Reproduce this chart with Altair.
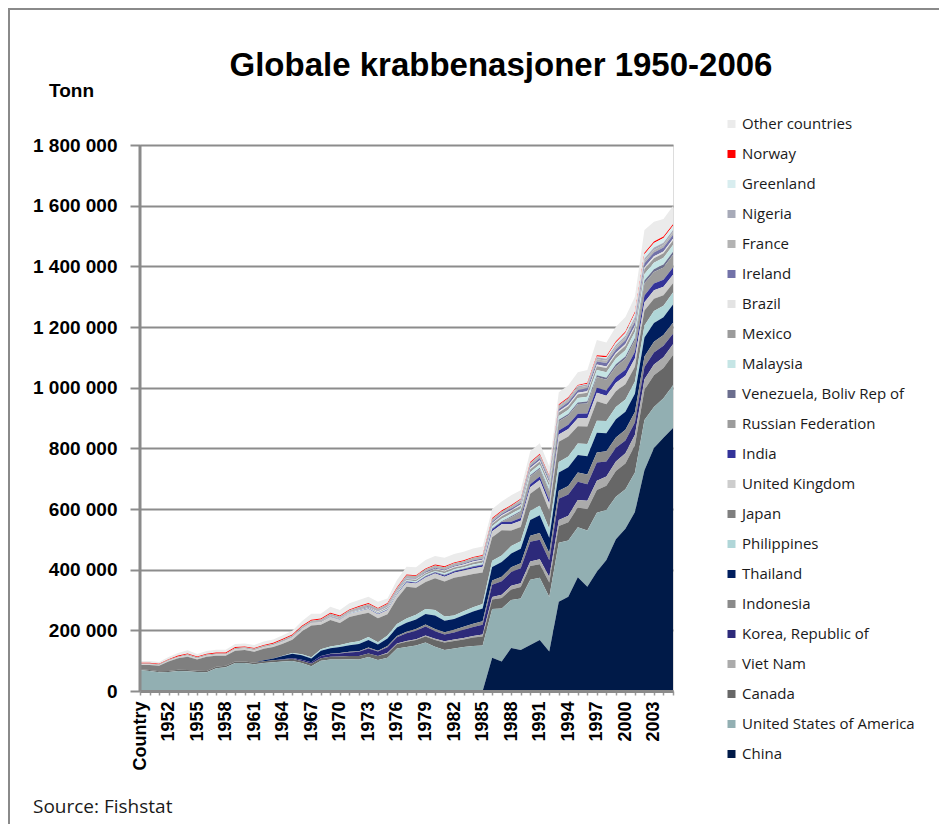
import altair as alt
import pandas as pd

# Category axis: first slot is labelled "Country" (Excel artefact), then 1950..2005
categories = ["Country"] + [str(y) for y in range(1950, 2006)]

# Values in thousand tonnes, one per category slot (57 slots)
china = [0, 0, 0, 0, 0, 0, 0, 0, 0, 0,
         0, 0, 0, 0, 0, 0, 0, 0, 0, 0,
         0, 0, 0, 0, 0, 0, 0, 0, 0, 0,
         0, 0, 0, 0, 0, 0, 0, 110, 97, 142,
         135, 152, 168, 130, 294, 311, 375, 344, 393, 432,
         500, 535, 590, 728, 801, 835, 867]
usa = [69, 66, 62, 63, 66, 65, 63, 62, 75, 78,
       92, 92, 88, 92, 95, 97, 99, 92, 82, 100,
       104, 104, 105, 104, 112, 102, 110, 140, 145, 150,
       160, 146, 135, 140, 145, 148, 150, 160, 175, 158,
       170, 215, 205, 180, 195, 185, 165, 185, 195, 165,
       140, 130, 130, 165, 135, 130, 141]
canada = [3, 3, 3, 3, 4, 4, 4, 4, 5, 5,
          5, 5, 5, 6, 6, 6, 7, 7, 8, 8,
          9, 10, 10, 11, 12, 13, 14, 15, 17, 18,
          20, 22, 25, 25, 25, 28, 30, 32, 35, 35,
          38, 45, 45, 48, 55, 60, 65, 70, 75, 80,
          85, 85, 90, 100, 105, 100, 100]
vietnam = [0, 0, 0, 0, 0, 0, 0, 0, 0, 0,
           0, 0, 0, 0, 0, 0, 0, 0, 0, 0,
           0, 0, 0, 0, 0, 0, 2, 2, 3, 3,
           3, 4, 4, 5, 5, 5, 6, 8, 10, 12,
           12, 15, 16, 18, 20, 22, 25, 28, 30, 30,
           32, 34, 35, 35, 35, 35, 35]
korea = [0, 0, 0, 0, 0, 0, 0, 0, 0, 0,
         0, 0, 0, 0, 0, 2, 3, 4, 5, 7,
         9, 10, 12, 14, 16, 15, 18, 20, 25, 28,
         30, 25, 22, 23, 27, 30, 32, 40, 45, 45,
         50, 65, 65, 55, 70, 70, 60, 55, 60, 50,
         45, 42, 40, 40, 40, 38, 35]
indonesia = [0, 0, 0, 0, 0, 0, 0, 0, 0, 0,
             0, 0, 0, 0, 0, 0, 0, 0, 0, 0,
             1, 1, 2, 2, 3, 3, 4, 4, 5, 5,
             6, 7, 8, 9, 10, 11, 12, 14, 15, 16,
             16, 20, 22, 24, 26, 28, 30, 32, 33, 33,
             34, 35, 35, 35, 35, 36, 36]
thailand = [0, 0, 0, 0, 0, 0, 0, 0, 0, 0,
            0, 0, 0, 3, 6, 10, 14, 15, 12, 18,
            18, 20, 22, 24, 25, 20, 25, 28, 30, 32,
            35, 45, 38, 35, 38, 40, 42, 45, 48, 45,
            48, 52, 58, 50, 60, 62, 58, 60, 65, 60,
            60, 60, 60, 62, 62, 58, 60]
philippines = [0, 0, 0, 0, 0, 0, 0, 0, 0, 0,
               0, 0, 0, 0, 0, 1, 2, 3, 4, 5,
               6, 7, 8, 9, 10, 8, 10, 12, 14, 15,
               16, 18, 14, 12, 13, 14, 15, 20, 22, 25,
               25, 30, 32, 30, 35, 35, 38, 40, 40, 40,
               40, 40, 40, 40, 40, 38, 40]
japan = [14, 17, 18, 31, 38, 44, 37, 47, 36, 33,
         36, 38, 36, 38, 38, 40, 44, 75, 105, 80,
         87, 72, 85, 87, 80, 79, 70, 84, 105, 89,
         89, 105, 115, 124, 116, 110, 104, 78, 83, 51,
         47, 56, 62, 59, 67, 66, 57, 58, 64, 55,
         52, 50, 49, 49, 40, 35, 30]
uk = [2, 2, 2, 3, 3, 4, 3, 3, 4, 4,
      5, 5, 5, 5, 6, 6, 7, 8, 8, 9,
      9, 10, 10, 11, 12, 12, 13, 13, 14, 14,
      15, 15, 16, 17, 18, 18, 19, 20, 20, 21,
      20, 22, 23, 23, 24, 25, 26, 27, 28, 28,
      28, 28, 28, 28, 28, 28, 28]
india = [0, 0, 0, 0, 0, 0, 0, 0, 0, 0,
         0, 0, 0, 0, 0, 0, 0, 0, 0, 0,
         1, 1, 1, 1, 2, 2, 2, 2, 3, 3,
         3, 3, 4, 4, 4, 5, 5, 6, 7, 8,
         9, 10, 11, 12, 13, 14, 15, 16, 17, 18,
         19, 20, 21, 22, 22, 23, 24]
russia = [0, 0, 0, 0, 0, 0, 0, 0, 0, 0,
          0, 0, 0, 0, 0, 0, 0, 0, 0, 0,
          0, 0, 0, 0, 0, 0, 0, 0, 0, 0,
          0, 0, 0, 0, 0, 0, 0, 0, 0, 15,
          20, 25, 25, 28, 30, 30, 32, 33, 35, 35,
          35, 36, 38, 40, 38, 40, 42]
venezuela = [0, 0, 0, 0, 0, 0, 0, 0, 0, 0,
             0, 0, 0, 0, 0, 0, 0, 0, 0, 0,
             0, 0, 0, 0, 0, 1, 1, 1, 1, 1,
             2, 2, 2, 2, 2, 2, 2, 3, 3, 3,
             3, 4, 4, 4, 5, 5, 5, 6, 6, 7,
             7, 8, 8, 9, 9, 10, 10]
malaysia = [0, 0, 0, 0, 0, 0, 0, 0, 0, 0,
            0, 0, 0, 0, 0, 0, 0, 0, 0, 0,
            1, 1, 1, 2, 2, 2, 3, 3, 3, 4,
            4, 4, 5, 5, 5, 6, 6, 7, 8, 8,
            9, 10, 11, 12, 13, 14, 15, 16, 17, 18,
            19, 20, 20, 22, 22, 22, 22]
mexico = [0, 0, 0, 0, 0, 0, 0, 0, 0, 0,
          0, 0, 0, 0, 0, 1, 1, 1, 1, 2,
          2, 2, 2, 3, 3, 3, 4, 4, 4, 5,
          5, 5, 6, 6, 6, 7, 7, 8, 8, 9,
          9, 10, 10, 11, 11, 12, 12, 13, 13, 14,
          14, 15, 15, 16, 15, 15, 15]
brazil = [0, 0, 0, 0, 0, 0, 0, 0, 0, 0,
          0, 0, 0, 0, 0, 0, 0, 0, 0, 0,
          1, 1, 1, 1, 1, 2, 2, 2, 2, 2,
          2, 2, 3, 3, 3, 3, 3, 3, 3, 3,
          4, 4, 4, 4, 4, 5, 5, 5, 5, 5,
          5, 6, 6, 6, 6, 6, 6]
ireland = [0, 0, 0, 0, 0, 0, 0, 0, 0, 0,
           0, 0, 0, 0, 0, 1, 1, 1, 1, 1,
           1, 1, 1, 1, 2, 2, 2, 2, 2, 2,
           3, 3, 3, 3, 3, 4, 4, 5, 5, 6,
           6, 7, 7, 8, 8, 9, 9, 10, 10, 11,
           11, 12, 12, 13, 13, 13, 13]
france = [3, 3, 3, 3, 3, 4, 4, 4, 4, 4,
          4, 4, 5, 5, 5, 5, 5, 6, 6, 6,
          6, 6, 6, 7, 7, 7, 7, 7, 8, 8,
          8, 8, 8, 8, 8, 8, 8, 8, 8, 8,
          8, 8, 8, 8, 8, 8, 8, 8, 8, 8,
          8, 8, 8, 8, 8, 8, 8]
nigeria = [0, 0, 0, 0, 0, 0, 0, 0, 0, 0,
           0, 0, 0, 0, 0, 0, 0, 0, 0, 0,
           0, 0, 0, 0, 0, 0, 0, 0, 0, 0,
           0, 0, 0, 0, 0, 0, 0, 0, 0, 0,
           2, 2, 3, 3, 4, 4, 5, 5, 6, 6,
           7, 7, 8, 8, 8, 8, 8]
greenland = [0, 0, 0, 0, 0, 0, 0, 0, 0, 0,
             0, 0, 0, 0, 0, 0, 0, 0, 0, 0,
             0, 0, 0, 0, 0, 0, 0, 0, 0, 0,
             0, 0, 0, 0, 0, 0, 0, 0, 0, 0,
             0, 0, 0, 0, 0, 0, 1, 2, 3, 5,
             8, 10, 12, 14, 15, 15, 14]
norway = [2, 2, 2, 2, 3, 3, 3, 3, 3, 3,
          3, 3, 3, 3, 3, 3, 3, 3, 3, 3,
          3, 3, 3, 3, 3, 3, 3, 3, 3, 3,
          3, 3, 3, 3, 3, 3, 3, 3, 3, 3,
          3, 3, 3, 3, 3, 3, 3, 3, 4, 4,
          4, 4, 5, 5, 5, 5, 5]
other = [6, 6, 6, 7, 8, 10, 8, 9, 9, 9,
         10, 10, 10, 11, 11, 12, 13, 15, 20, 16,
         20, 18, 20, 20, 21, 20, 15, 24, 26, 26,
         28, 28, 28, 28, 28, 28, 28, 30, 30, 32,
         28, 35, 35, 30, 40, 40, 42, 42, 50, 45,
         48, 48, 50, 75, 65, 58, 60]

# Legend order (top to bottom), matching colours
legend_order = ["Other countries", "Norway", "Greenland", "Nigeria", "France",
                "Ireland", "Brazil", "Mexico", "Malaysia", "Venezuela, Boliv Rep of",
                "Russian Federation", "India", "United Kingdom", "Japan", "Philippines",
                "Thailand", "Indonesia", "Korea, Republic of", "Viet Nam", "Canada",
                "United States of America", "China"]
colors = ["#EBEBEB", "#FF0000", "#D8EDEF", "#A7AAB8", "#B3B3B3",
          "#7272A8", "#E3E3E3", "#9B9B9B", "#C5E5E5", "#6B6E8E",
          "#9C9C9C", "#333399", "#CDCDCD", "#7F7F7F", "#B0D6D8",
          "#001E5E", "#8A8A8A", "#2D2A7A", "#ABABAB", "#676767",
          "#92AFB2", "#001A48"]
series = {
    "Other countries": other, "Norway": norway, "Greenland": greenland,
    "Nigeria": nigeria, "France": france, "Ireland": ireland, "Brazil": brazil,
    "Mexico": mexico, "Malaysia": malaysia, "Venezuela, Boliv Rep of": venezuela,
    "Russian Federation": russia, "India": india, "United Kingdom": uk,
    "Japan": japan, "Philippines": philippines, "Thailand": thailand,
    "Indonesia": indonesia, "Korea, Republic of": korea, "Viet Nam": vietnam,
    "Canada": canada, "United States of America": usa, "China": china,
}

rows = []
n = len(legend_order)
for li, name in enumerate(legend_order):
    vals = series[name]
    assert len(vals) == len(categories), (name, len(vals))
    for i, v in enumerate(vals):
        rows.append({"idx": i, "category": categories[i], "series": name,
                     "tonnes": v * 1000, "rank": n - 1 - li})
df = pd.DataFrame(rows)

W, H = 533, 546
FONT = "Liberation Sans"

x_label_expr = ("datum.value == 0 ? 'Country' : "
                "(datum.value % 3 == 0 ? '' + (1949 + datum.value) : '')")
y_label_expr = "join(split(format(datum.value, ','), ','), ' ')"

area = alt.Chart(df).mark_area(interpolate="linear").encode(
    x=alt.X("idx:Q",
            scale=alt.Scale(domain=[0, len(categories) - 1], nice=False, zero=False),
            axis=alt.Axis(values=list(range(len(categories))), labelExpr=x_label_expr,
                          labelAngle=270, labelAlign="right", labelBaseline="middle",
                          labelFont=FONT, labelFontSize=18, labelFontWeight="bold",
                          labelColor="black", labelPadding=6, labelOverlap=False,
                          labelFlush=False, tickColor="#9a9a9a", tickSize=4,
                          tickWidth=1.5, domainColor="#8a8a8a", domainWidth=3,
                          grid=False, title="", zindex=1)),
    y=alt.Y("tonnes:Q", stack="zero",
            scale=alt.Scale(domain=[0, 1800000], nice=False),
            axis=alt.Axis(values=[0, 200000, 400000, 600000, 800000, 1000000,
                                  1200000, 1400000, 1600000, 1800000],
                          labelExpr=y_label_expr, labelFont=FONT, labelFontSize=19,
                          labelFontWeight="bold", labelColor="black",
                          labelPadding=13, tickSize=10, tickColor="#8c8c8c",
                          tickWidth=2, gridColor="#8c8c8c", gridWidth=2,
                          domain=False, title="Tonn", titleAngle=0, titleX=-69,
                          titleY=-55, titleAlign="center", titleBaseline="middle",
                          titleFont=FONT, titleFontSize=19, titleFontWeight="bold",
                          titleColor="black")),
    color=alt.Color("series:N",
                    scale=alt.Scale(domain=legend_order, range=colors),
                    legend=alt.Legend(title=None, orient="none", legendX=584,
                                      legendY=-28.5, symbolType="square",
                                      symbolSize=64, symbolStrokeWidth=0,
                                      labelFont="Open Sans", labelFontSize=15,
                                      labelColor="#1a1a1a", labelOffset=3,
                                      rowPadding=14, padding=0, labelLimit=260)),
    order=alt.Order("rank:Q", sort="ascending"),
)

one = pd.DataFrame({"t": ["x"]})
y_axis_line = alt.Chart(one).mark_rule(color="#8a8a8a", strokeWidth=3).encode(
    x=alt.value(0), y=alt.value(0), y2=alt.value(H))
frame_left = alt.Chart(one).mark_rule(color="#8a8a8a", strokeWidth=2).encode(
    x=alt.value(-131), y=alt.value(-137), y2=alt.value(H + 140))
frame_top = alt.Chart(one).mark_rule(color="#8a8a8a", strokeWidth=2).encode(
    x=alt.value(-132), x2=alt.value(W + 270), y=alt.value(-136))

title_txt = alt.Chart(pd.DataFrame({"t": ["Globale krabbenasjoner 1950-2006"]})).mark_text(
    font=FONT, fontSize=33, fontWeight="bold", color="black", align="center",
    baseline="alphabetic").encode(text="t:N", x=alt.value(361), y=alt.value(-69))
source_txt = alt.Chart(pd.DataFrame({"t": ["Source: Fishstat"]})).mark_text(
    font="Open Sans", fontSize=19, color="#1a1a1a", align="left",
    baseline="alphabetic").encode(text="t:N", x=alt.value(-107), y=alt.value(668))

chart = alt.layer(area, y_axis_line, frame_left, frame_top, title_txt, source_txt).properties(
    width=W, height=H,
    autosize=alt.AutoSizeParams(type="none"),
    padding={"left": 132, "top": 137, "right": 266, "bottom": 133},
).configure_view(strokeWidth=0).configure(font=FONT)

chart.save("out.html", embed_options={"renderer": "svg", "actions": False})
